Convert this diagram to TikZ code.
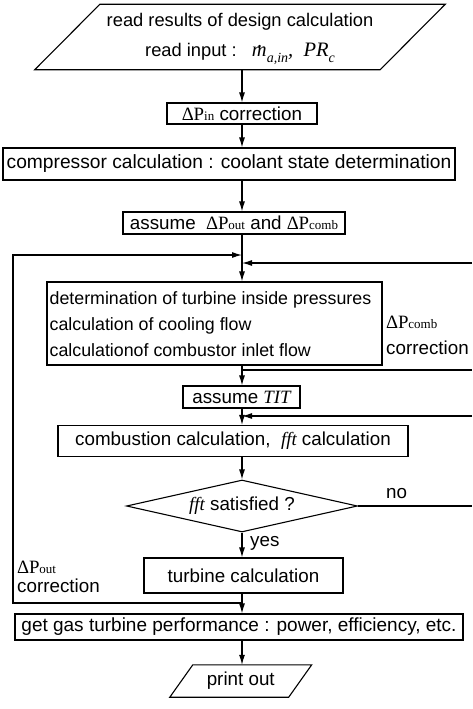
\documentclass[tikz,border=0pt]{standalone}
\usepackage{fontspec}
\setmainfont{Liberation Sans}
\newfontfamily\serif{Liberation Serif}
\usetikzlibrary{shapes.geometric,arrows.meta,calc}
\newcommand{\fsz}[1]{\fontsize{#1}{#1}\selectfont}
\newcommand{\dP}[1]{{\serif Δ\kern-0.3pt P{\fontsize{13}{13}\selectfont #1}}}
\newcommand{\sbs}[1]{\raisebox{-0.25em}{\fontsize{14}{14}\selectfont #1}}
\newcommand{\mdt}{\leavevmode\hbox{\rlap{\hbox to 0.8em{\hss\raisebox{0.45em}{.}\hss}}m}}
\begin{document}
\begin{tikzpicture}[x=1pt,y=1pt,
  every node/.style={font=\fsz{18.8}},
  box/.style={draw, line width=1.1pt, inner sep=0pt, align=center},
  arr/.style={line width=1.1pt, -{Latex[length=10pt,width=6pt]}},
  ln/.style={line width=1.1pt}]
\useasboundingbox (0,0) rectangle (472,-709);
\coordinate (sp) at (242,0);

% input parallelogram
\node[inner sep=0pt, minimum width=345, minimum height=65] (read) at (240,-37) {};
\draw[ln] ($(read.north west)+(32.5,0)$) -- ($(read.north east)+(32.5,0)$)
  -- ($(read.south east)+(-32.5,0)$) -- ($(read.south west)+(-32.5,0)$) -- cycle;
\node[inner sep=0pt, align=center, font=\fontsize{18.3}{30}\selectfont] (readt) at (240,-39)
  {read results of design calculation\\read input :\ \ \ {\serif\itshape\fontsize{20.5}{20}\selectfont\mdt\sbs{a,in},\ \ PR\sbs{c}}};

\node[box, minimum width=150, minimum height=21] (pin) at (242,-113.5) {\dP{in} correction};
\node[box, minimum width=452, minimum height=32, font=\fsz{19.2}] (comp) at (229,-164)
  {compressor calculation : coolant state determination};
\node[box, minimum width=222, minimum height=22] (asm) at (234,-223)
  {assume\ \ \dP{out} and \dP{comb}};
\node[box, minimum width=335, minimum height=83] (big) at (214.5,-323.5) {};
\node[anchor=west, align=left, inner sep=0pt, font=\fontsize{17.8}{26}\selectfont] (bigt)
  at ($(big.west)+(3,-0.5)$)
  {determination of turbine inside pressures\\calculation of cooling flow\\calculationof combustor inlet flow};
\node[anchor=west, align=left, inner sep=0pt, font=\fontsize{18.8}{26}\selectfont] (cmbl) at (386,-335)
  {\dP{comb}\\correction};
\node[box, minimum width=117, minimum height=22] (tit) at (241.5,-397) {assume {\serif\itshape TIT}};
\node[box, minimum width=350, minimum height=31] (comb) at (233,-441)
  {combustion calculation,\ \ {\serif\itshape fft} calculation};
\node[draw, line width=1.1pt, shape=diamond, aspect=4.44, minimum width=231, minimum height=52,
      inner sep=0pt] (dia) at (242,-506) {{\serif\itshape fft} satisfied ?};
\node[anchor=south west, inner sep=0pt] (no) at (386,-499) {no};
\node[anchor=west, inner sep=0pt] (yes) at (250,-543) {yes};
\node[box, minimum width=199, minimum height=35] (turb) at (243.5,-575.5) {turbine calculation};
\node[anchor=west, align=left, inner sep=0pt, font=\fontsize{18.8}{19}\selectfont] (outl) at (17,-577)
  {\dP{out}\\correction};
\node[box, minimum width=448, minimum height=26, font=\fsz{19}] (perf) at (239,-627)
  {get gas turbine performance : power, efficiency, etc.};

% output parallelogram
\node[inner sep=0pt, minimum width=118.5, minimum height=32] (prt) at (240.75,-681) {print out};
\draw[ln] ($(prt.north west)+(11.5,0)$) -- ($(prt.north east)+(11.5,0)$)
  -- ($(prt.south east)+(-11.5,0)$) -- ($(prt.south west)+(-11.5,0)$) -- cycle;

% loop coordinates
\coordinate (lt) at (13,-255);
\coordinate (lb) at (13,-603);
\coordinate (r1) at (472,-263);
\coordinate (r2) at (472,-370);
\coordinate (r3) at (472,-416);

% main flow
\draw[arr] (read.south -| sp) -- (pin.north -| sp);
\draw[arr] (pin.south -| sp) -- (comp.north -| sp);
\draw[arr] (comp.south -| sp) -- (asm.north -| sp);
\draw[arr] (asm.south -| sp) -- (big.north -| sp);
\draw[arr] (big.south -| sp) -- (tit.north -| sp);
\draw[arr] (tit.south -| sp) -- (comb.north -| sp);
\draw[arr] (comb.south -| sp) -- (dia.north);
\draw[arr] (dia.south) -- (turb.north -| sp);
\draw[arr] (turb.south -| sp) -- (perf.north -| sp);
\draw[arr] (perf.south -| sp) -- (prt.north -| sp);

% loops
\draw[arr] (lb -| sp) -- (lb) -- (lt) -- (lt -| sp);
\draw[arr] (r1) -- (r1 -| sp);
\draw[ln] (r2 -| sp) -- (r2);
\draw[arr] (r3) -- (r3 -| sp);
\draw[ln] (dia.east) -- (dia.east -| r3);
\end{tikzpicture}
\end{document}
